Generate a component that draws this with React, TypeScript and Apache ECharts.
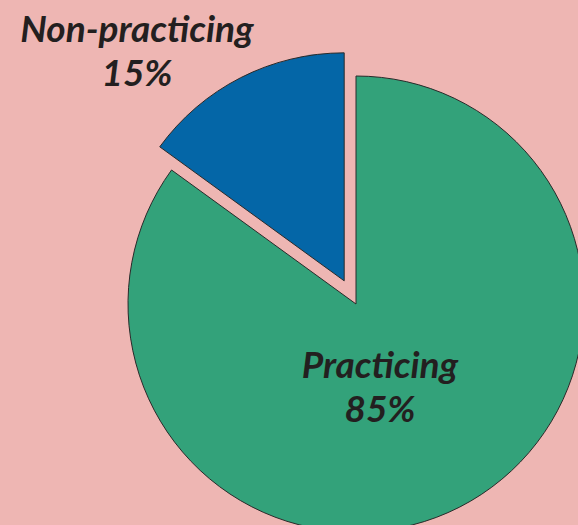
import React, { useEffect, useRef } from "react";
import * as echarts from "echarts";

const categories = ["Practicing", "Non-practicing"];
const values = [85, 15];
const colors = ["#33a27a", "#0466a7"];

export default function App() {
  const ref = useRef<HTMLDivElement>(null);
  useEffect(() => {
    if (!ref.current) return;
    const chart = echarts.init(ref.current, null, { renderer: "svg" });
    const labelPos = [
      { x: 380, y: 385 },
      { x: 137, y: 49 },
    ];
    chart.setOption({
      animation: false,
      backgroundColor: "#eeb6b3",
      graphic: categories.map((name, i) => ({
        type: "text",
        x: labelPos[i].x,
        y: labelPos[i].y,
        z: 100,
        style: {
          text: `${name}\n${values[i]}%`,
          fill: "#231f20",
          fontFamily: "Lato",
          fontStyle: "italic",
          fontWeight: "bold",
          fontSize: 37,
          lineHeight: 44,
          align: "center",
          verticalAlign: "middle",
        },
      })),
      series: [
        {
          type: "pie",
          center: [356, 304],
          radius: 228,
          startAngle: 90,
          clockwise: true,
          selectedMode: "single",
          selectedOffset: 26,
          emphasis: { disabled: true },
          itemStyle: { borderColor: "#2a2a2a", borderWidth: 1 },
          label: { show: false },
          labelLine: { show: false },
          data: categories.map((name, i) => ({
            name,
            value: values[i],
            selected: i === 1,
            itemStyle: { color: colors[i] },
          })),
        },
      ],
    });
    return () => chart.dispose();
  }, []);
  return (
    <div
      ref={ref}
      style={{ position: "fixed", left: 0, top: 0, width: 578, height: 525 }}
    />
  );
}
